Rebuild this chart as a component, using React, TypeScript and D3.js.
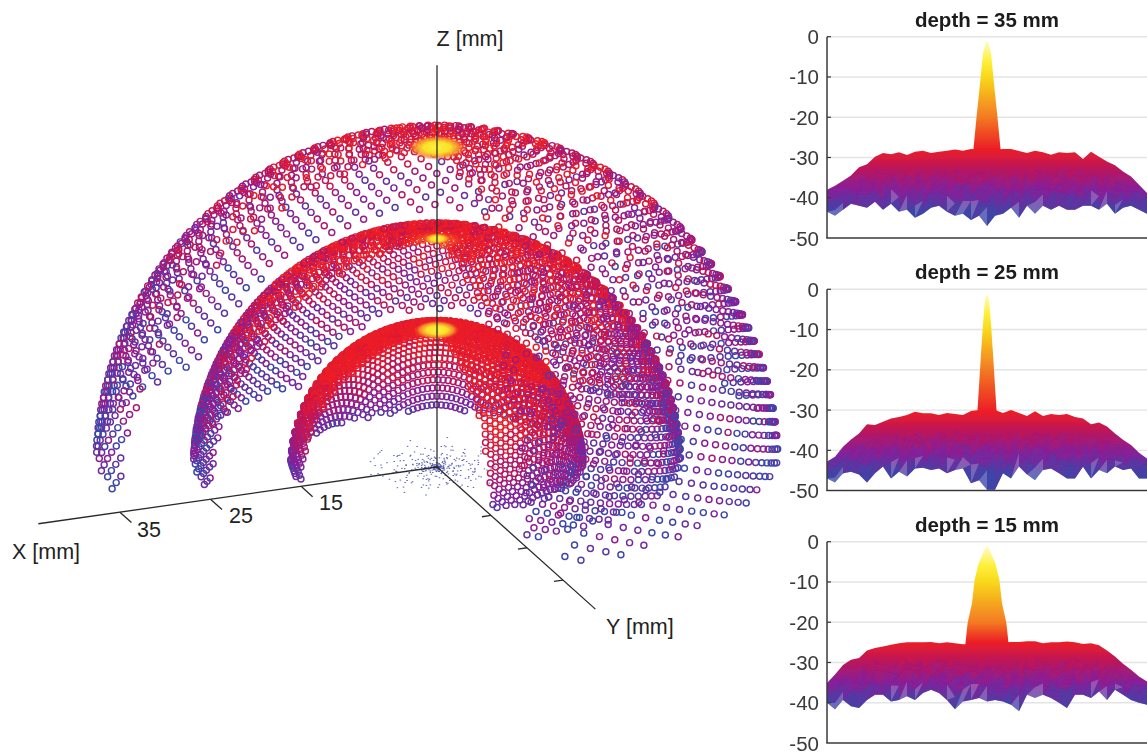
import React, { useMemo } from "react";
import * as d3 from "d3";

const W = 1147, H = 755;
const FONT = '"Liberation Sans", Arial, sans-serif';

// ---------- hemisphere data ----------
const shellDepths = [35, 25, 15];
const shellElements = [2900, 3500, 0];            // elements on a whole dome (golden-angle layout)
const shellSpacing = [0, 0, 0.74];                // pitch of the regular lattice on the inner shell, mm
const shellShear = [0.5, 0.5, 0.1];
const polarStops = [0, 3, 7, 12, 25, 45, 60, 75, 88];
const shell35Db = [-14, -24, -27, -27.5, -28, -32, -34.5, -37, -40];
const shell25Db = [-12, -22, -25, -25, -25.5, -28.5, -32, -35.5, -39.5];
const shell15Db = [-12, -20, -24, -24.5, -25, -25, -27, -31, -38];
const shellDb = [shell35Db, shell25Db, shell15Db];
const spotAngle = [5, 3.2, 9];                    // half-width of focal spot, deg
const warpIn = [0, 20, 50, 90];
const warpOut = [0, 13, 50, 90];
const latticeWarpIn = [0, 20, 50, 70, 90];
const latticeWarpOut = [0, 10, 39, 63, 90];
const maxPolar = [87.5, 88, 88.5];
const colorJitter = [2.1, -3.4, 0.6, 3.8, -1.2, -4.6, 1.7, 4.4, -2.5, 0.2, -3.9, 3.1, -0.7, 2.7, -4.2, 1.1, 4.9, -1.9, -3.0, 0.9, 3.5, -2.2, -0.3, 4.1, -4.8, 1.4, 2.4, -1.5, -3.6, 3.3, 0.4];
const sourceCount = 340;
const sourceRadius = 7;

// ---------- 3-D axes ----------
const axisLength = 44;
const xTicks = [15, 25, 35];
const yTicks = [15, 25, 35];

// ---------- panel data ----------
const panelDepths = [35, 25, 15];
const panelPlateau = [-28, -30.5, -25];
const yTickValues = [0, -10, -20, -30, -40, -50];
const columnX = d3.range(-80, 81, 4);
const top35 = [-38, -37, -35.8, -34.5, -32.4, -31.7, -29.8, -28.9, -29.2, -28.7, -29.4, -28.6, -28.3, -28.9, -28.6, -28.3, -28, -28.3, -27.9, -28, -28, -28, -27.9, -27.9, -28.4, -28.9, -28.3, -28.7, -29.3, -28.7, -28.9, -28.7, -30.4, -28.6, -29.8, -31, -31.9, -33.5, -34.7, -36.8, -38.8];
const bottom35 = [-43.5, -44.5, -43, -41.5, -42, -42.5, -41, -43, -41.5, -43.5, -43, -45, -44, -42.5, -42, -43.5, -44.5, -44, -45.5, -44.5, -47, -44.5, -44, -42.5, -45, -42, -44, -42, -43, -42, -43, -43, -42, -42, -43, -41.5, -44, -42.5, -42, -43, -44];
const top25 = [-42.8, -41.6, -39.1, -37.3, -35.8, -33.5, -33.7, -32.9, -32.1, -31.7, -31.2, -30.4, -30.8, -30.8, -31.2, -30.7, -31, -31.2, -30.2, -30, -30, -30, -30.7, -30, -30.7, -31.5, -30.3, -31.5, -31, -31.2, -31, -31.7, -32.1, -33.5, -33.1, -34.1, -35.8, -37.4, -38.7, -40.6, -42];
const bottom25 = [-47, -48, -45.7, -45.3, -46, -48, -45.7, -44, -47, -45.3, -46.5, -44.5, -44.3, -44.9, -44.5, -45.7, -44.9, -44.5, -48.2, -47.4, -49.8, -49.8, -45.7, -47, -44, -46, -47.4, -44.9, -44.5, -45.7, -47, -47, -44.1, -47, -44.9, -45.7, -44, -44.9, -44.5, -47, -47];
const top15 = [-35.1, -33, -30.6, -29.3, -28.9, -27, -26.4, -26, -25.6, -25.2, -25, -25, -25, -24.9, -25.2, -25, -25.2, -25.5, -25.4, -25.2, -25.2, -25.2, -25, -24.9, -24.9, -24.7, -24.7, -25.2, -25, -25, -24.8, -25, -25.4, -25.2, -25.7, -27, -28.5, -30.3, -31.8, -33.5, -34.7];
const bottom15 = [-40, -41.7, -39.3, -40.9, -41.3, -39.3, -38, -38, -39.7, -39.3, -38.4, -39.3, -37.6, -36.8, -37.6, -39.3, -41.6, -39.7, -39.3, -38.8, -39.7, -39.3, -39.7, -40.5, -42.1, -38, -38.8, -38, -38.8, -40, -41.3, -38, -38, -38.8, -37.2, -39.3, -36.8, -38, -39.3, -40, -40.5];
const panelTop = [top35, top25, top15];
const panelBottom = [bottom35, bottom25, bottom15];
const peak35Db = [-28, -19.8, -10.7, -4, -1.2];
const peak35Half = [6.8, 5.2, 3.3, 2, 0.5];
const peak25Db = [-30.4, -20, -10, -3.5, -1.5];
const peak25Half = [4.8, 3.5, 2.2, 1.2, 0.5];
const peak15Db = [-25.4, -20.2, -15.3, -9.5, -5.4, -2.9, -1.2];
const peak15Half = [10.8, 9.7, 7.5, 6.2, 4.2, 2, 0.5];
const peakDb = [peak35Db, peak25Db, peak15Db];
const peakHalf = [peak35Half, peak25Half, peak15Half];
const facetTexture = [1.2, -0.8, 1.9, -1.6, 0.5, 2.3, -2.1, 0.9, -0.4, 1.6, -1.3, 2.6, -2.4, 0.3, 1.1, -1.8, 2.0, -0.6, -2.7, 1.4, 0.7, -1.1, 2.4, -1.9, 0.1];
const facetRows = [0.34, 0.46, 0.58, 0.7, 0.82, 1];

// ---------- layout (view) ----------
const origin = { x: 437, y: 467 };
const pxPerMm = 9.77;
const exScale = d3.scaleLinear().domain([0, 1]).range([0, -9.06]);
const eyScale = d3.scaleLinear().domain([0, 1]).range([0, 3.6]);
const fxScale = d3.scaleLinear().domain([0, 1]).range([0, 1.29]);
const fyScale = d3.scaleLinear().domain([0, 1]).range([0, 3.23]);
const fzScale = d3.scaleLinear().domain([0, 1]).range([0, -9.13]);
const viewDir = [0.346, 0.87, 0.357];
const project = (x: number, y: number, z: number) => ({
  x: origin.x + exScale(x) + eyScale(y),
  y: origin.y + fxScale(x) + fyScale(y) + fzScale(z),
});

const ramp = (p: number) => {
  const d = [0, -2, -6, -10, -20, p, p - 5, p - 10, p - 16];
  const c = ["#ffffff", "#fff9b0", "#fdf03a", "#f8d81c", "#f37a22", "#ec1c26", "#b8175e", "#86209a", "#3c46a8"];
  return { d, c, s: d3.scaleLinear<string>().domain(d).range(c).clamp(true) };
};
const dotRamp = ramp(-25);

type Dot = { x: number; y: number; c: string; far: boolean };

function buildShell(si: number): { far: Dot[]; near: Dot[] } {
  const r = shellDepths[si];
  const dbScale = d3.scaleLinear().domain(polarStops).range(shellDb[si]).clamp(true);
  const far: Dot[] = [], near: Dot[] = [];
  const rin = si < 2 ? shellDepths[si + 1] : 0;
  const place = (thDeg: number, phi: number, jitIndex: number) => {
    if (thDeg > maxPolar[si]) return;
    const t = (thDeg * Math.PI) / 180;
    const X = r * Math.sin(t) * Math.cos(phi);
    const Y = r * Math.sin(t) * Math.sin(phi);
    const Z = r * Math.cos(t);
    if (X > 0 && Y > 0) return;
    const p = project(X, Y, Z);
    const isFar = X * viewDir[0] + Y * viewDir[1] + Z * viewDir[2] < 0;
    if (isFar && rin > 0) {
      const dist = Math.hypot(p.x - origin.x, p.y - origin.y);
      if (dist < rin * pxPerMm + 12) return;
    }
    const jit = colorJitter[jitIndex % colorJitter.length];
    let db = dbScale(thDeg);
    if (thDeg > 8) db = Math.min(-25, db + jit * (si === 2 ? 0.4 : 1));
    const dot: Dot = { x: p.x, y: p.y, c: dotRamp.s(db), far: isFar };
    (isFar ? far : near).push(dot);
  };
  if (shellElements[si] > 0) {
    const warp = d3.scaleLinear().domain(warpIn).range(warpOut);
    const N = shellElements[si];
    for (let i = 0; i < N; i++) {
      const uni = (Math.acos(1 - (i + 0.5) / N) * 180) / Math.PI;
      place(warp(uni), i * 2.39996, i * 7);
    }
  } else {
    const s = shellSpacing[si];
    const warp = d3.scaleLinear().domain(latticeWarpIn).range(latticeWarpOut);
    const e1 = [-0.93 * s, 0.37 * s];
    const sh = shellShear[si];
    const e2 = [(0.37 + sh * -0.93) * s, (0.93 + sh * 0.37) * s];
    const n = Math.ceil((r * Math.PI) / 2 / s * 2.4);
    for (let a = -n; a <= n; a++) {
      for (let b = -n; b <= n; b++) {
        const u = a * e1[0] + b * e2[0] + 0.13 * s;
        const v = a * e1[1] + b * e2[1] + 0.27 * s;
        const arc = (Math.hypot(u, v) / r) * (180 / Math.PI);
        if (arc > 90) continue;
        place(warp(arc), Math.atan2(v, u), Math.abs(a * 7 + b * 13 + a * b));
      }
    }
  }
  return { far, near };
}

function Panel({ idx, top }: { idx: number; top: number }) {
  const y = d3.scaleLinear().domain([0, -50]).range([top, top + 201.3]);
  const x = d3.scaleLinear().domain([-80, 80]).range([827, 1147]);
  const tops = panelTop[idx];
  const bots = panelBottom[idx];
  const plateau = panelPlateau[idx];
  const R = ramp(plateau);
  const gid = `grad${idx}`;
  const area = d3
    .area<number>()
    .x((_, i) => x(columnX[i]))
    .y0((_, i) => y(bots[i]))
    .y1((_, i) => y(tops[i]));
  const pd = peakDb[idx];
  const ph = peakHalf[idx];
  const peakPts: [number, number][] = [
    ...pd.map((d, i) => [x(-ph[i]), y(d)] as [number, number]),
    ...pd.map((d, i) => [x(ph[i]), y(d)] as [number, number]).reverse(),
  ];
  // a little below the plateau so the base merges with the surface
  peakPts.unshift([x(-ph[0]), y(pd[0] - 2)]);
  peakPts.push([x(ph[0]), y(pd[0] - 2)]);

  const vert = (i: number, k: number) => {
    const f = facetRows[k];
    const tx = k === facetRows.length - 1 ? 0 : facetTexture[(i * 5 + k * 11) % facetTexture.length] * f * 1.1;
    const v = tops[i] + (bots[i] - tops[i]) * f + tx;
    return { px: x(columnX[i]), py: y(v), v };
  };
  const facets: React.ReactNode[] = [];
  for (let i = 0; i < columnX.length - 1; i++) {
    for (let k = 0; k < facetRows.length - 1; k++) {
      const a = vert(i, k), b = vert(i + 1, k), c = vert(i, k + 1), d = vert(i + 1, k + 1);
      const tri = [[a, b, c], [b, d, c]];
      tri.forEach((t, ti) => {
        const m = (t[0].v + t[1].v + t[2].v) / 3 + facetTexture[(i * 3 + k * 7 + ti * 4) % facetTexture.length] * 0.9;
        const last = k === facetRows.length - 2;
        const light = last && facetTexture[(i * 2 + ti * 9) % facetTexture.length] > 1.5;
        facets.push(
          <polygon
            key={`${i}-${k}-${ti}`}
            points={t.map((q) => `${q.px},${q.py}`).join(" ")}
            fill={light ? "#ffffff" : R.s(m)}
            fillOpacity={light ? 0.22 : 0.55}
          />
        );
      });
    }
  }
  return (
    <g>
      <defs>
        <linearGradient id={gid} gradientUnits="userSpaceOnUse" x1={0} x2={0} y1={y(0)} y2={y(-50)}>
          {R.d.map((d, i) => (
            <stop key={i} offset={-d / 50} stopColor={R.c[i]} />
          ))}
        </linearGradient>
      </defs>
      {yTickValues.slice(0, 5).map((t) => (
        <line key={t} x1={827} x2={1147} y1={y(t)} y2={y(t)} stroke="#e4e4e4" strokeWidth={1.4} />
      ))}
      <path d={area(tops) as string} fill={`url(#${gid})`} />
      {facets}
      <polygon points={peakPts.map((p) => p.join(",")).join(" ")} fill={`url(#${gid})`} />
      <line x1={827} x2={827} y1={y(0)} y2={y(-50)} stroke="#383838" strokeWidth={1.5} />
      <line x1={826.3} x2={1147} y1={y(-50)} y2={y(-50)} stroke="#383838" strokeWidth={1.5} />
      {yTickValues.slice(0, 5).map((t) => (
        <line key={t} x1={827} x2={831} y1={y(t)} y2={y(t)} stroke="#383838" strokeWidth={1.2} />
      ))}
      {yTickValues.map((t) => (
        <text key={t} x={819} y={y(t) + 7.5} textAnchor="end" fontSize={20.5} fill="#3a3a3a" fontFamily={FONT}>
          {t}
        </text>
      ))}
      <text x={987} y={top - 10} textAnchor="middle" fontSize={20.5} fontWeight="bold" fill="#1c1c1c" fontFamily={FONT}>
        {`depth = ${panelDepths[idx]} mm`}
      </text>
    </g>
  );
}

export default function App() {
  const shells = useMemo(() => shellDepths.map((_, i) => buildShell(i)), []);
  const sources = useMemo(
    () =>
      d3.range(sourceCount).map((i) => {
        const jit = colorJitter[(i * 11) % colorJitter.length];
        const rr = sourceRadius * Math.pow((i + 1) / sourceCount, 1.45) * (1 + jit * 0.05);
        const ang = i * 2.39996 + jit * 0.12;
        return project(rr * Math.cos(ang), rr * Math.sin(ang), 0);
      }),
    []
  );
  const drawDots = (ds: Dot[], key: string) => (
    <g key={key} fill="none" strokeWidth={1.45}>
      {ds.map((d, i) => (
        <circle key={i} cx={d.x} cy={d.y} r={3} stroke={d.c} />
      ))}
    </g>
  );
  const tickLine = (a: { x: number; y: number }, b: { x: number; y: number }, k: string) => (
    <line key={k} x1={a.x} y1={a.y} x2={b.x} y2={b.y} stroke="#2a2a2a" strokeWidth={1.3} />
  );
  const o = project(0, 0, 0);
  const xe = project(axisLength, 0, 0);
  const ye = project(0, axisLength, 0);
  const ze = project(0, 0, axisLength);
  return (
    <svg width={W} height={H} viewBox={`0 0 ${W} ${H}`} style={{ position: "absolute", left: 0, top: 0, display: "block", background: "#fff" }}>
      <defs>
        <filter id="soft" x="-2%" y="-2%" width="104%" height="104%">
          <feGaussianBlur stdDeviation="0.3" />
        </filter>
        <radialGradient id="spot">
          <stop offset="0" stopColor="#fdf23c" />
          <stop offset="0.45" stopColor="#fbe02a" />
          <stop offset="0.75" stopColor="#f5902a" stopOpacity="0.85" />
          <stop offset="1" stopColor="#ea2a2a" stopOpacity="0" />
        </radialGradient>
      </defs>
      <g filter="url(#soft)">
        <g fill="#4a52aa">
          {sources.map((p, i) => (
            <rect key={i} x={p.x - 0.7} y={p.y - 0.4} width={1.5} height={0.9} />
          ))}
        </g>
        {shells.map((s, i) => drawDots(s.far, `far${i}`))}
        {[2, 1, 0].map((i) => drawDots(shells[i].near, `near${i}`))}
        {shellDepths.map((r, i) => {
          const p = project(0, 0, r);
          const rx = Math.sin((spotAngle[i] * Math.PI) / 180) * r * pxPerMm;
          return <ellipse key={r} cx={p.x} cy={p.y} rx={rx} ry={rx * 0.42} fill="url(#spot)" />;
        })}
        {tickLine(o, xe, "xa")}
        {tickLine(o, ye, "ya")}
        {tickLine(o, ze, "za")}
        {xTicks.map((t) => tickLine(project(t, 0, 0), project(t, 3.2, 0), `xt${t}`))}
        {yTicks.map((t) => tickLine(project(0, t, 0), project(1, t, 0), `yt${t}`))}
        {panelDepths.map((_, i) => (
          <Panel key={i} idx={i} top={[36.7, 289.3, 541.7][i]} />
        ))}
      </g>
      <g fontFamily={FONT} fontSize={21.5} fill="#222">
        <text x={470} y={46} textAnchor="middle">Z [mm]</text>
        <text x={12} y={559}>X [mm]</text>
        <text x={606} y={634}>Y [mm]</text>
        <text x={149} y={537} textAnchor="middle">{xTicks[2]}</text>
        <text x={241} y={523} textAnchor="middle">{xTicks[1]}</text>
        <text x={331} y={510} textAnchor="middle">{xTicks[0]}</text>
      </g>
    </svg>
  );
}
